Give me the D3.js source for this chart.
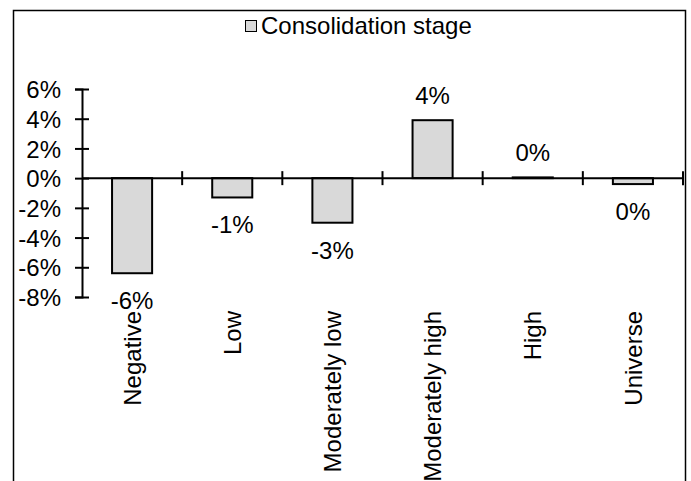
<!DOCTYPE html>
<html>
<head>
<meta charset="utf-8">
<script src="https://cdn.jsdelivr.net/npm/d3@7"></script>
<style>
  html, body { margin: 0; padding: 0; background: #fff; }
  svg { display: block; }
  text { font-family: "Liberation Sans", Arial, sans-serif; fill: #000; }
</style>
</head>
<body>
<svg id="chart" width="691" height="481"></svg>
<script>
// ---- data ----
const categories = ["Negative", "Low", "Moderately low", "Moderately high", "High", "Universe"];
const values = [-6.4, -1.3, -3.0, 3.9, 0.05, -0.4];   // percent
const yTicks = [-8, -6, -4, -2, 0, 2, 4, 6];
const seriesName = "Consolidation stage";

// ---- layout ----
const W = 691, H = 481;
const plot = { left: 82, right: 683, top: 89, bottom: 297 };
const fontSize = 24;
const barFill = "#d9d9d9";
const lw = 2;

const svg = d3.select("#chart");

// outer chart border (bottom edge falls outside the picture)
svg.append("rect")
  .attr("x", 13.5).attr("y", 10.5)
  .attr("width", 672).attr("height", 490)
  .attr("fill", "none").attr("stroke", "#000").attr("stroke-width", 1.5);

const x = d3.scaleBand()
  .domain(categories)
  .range([plot.left, plot.right])
  .paddingInner(0).paddingOuter(0);

const y = d3.scaleLinear()
  .domain([d3.min(yTicks), d3.max(yTicks)])
  .range([plot.bottom, plot.top]);

const barW = x.bandwidth() * 0.4;

// bars
svg.append("g").selectAll("rect")
  .data(categories)
  .join("rect")
  .attr("x", (d) => x(d) + (x.bandwidth() - barW) / 2)
  .attr("y", (d, i) => y(Math.max(0, values[i])))
  .attr("width", barW)
  .attr("height", (d, i) => Math.abs(y(values[i]) - y(0)))
  .attr("fill", barFill)
  .attr("stroke", "#000")
  .attr("stroke-width", lw);

// y axis
const yAxis = svg.append("g")
  .attr("transform", `translate(${plot.left},0)`)
  .call(d3.axisLeft(y).tickValues(yTicks).tickSize(7).tickPadding(14)
    .tickFormat((d) => d + "%"));
yAxis.select(".domain").attr("stroke-width", lw);
yAxis.selectAll(".tick line").attr("x1", 7).attr("stroke-width", lw);
yAxis.selectAll(".tick text")
  .attr("font-size", fontSize)
  .attr("font-family", "'Liberation Sans', Arial, sans-serif")
  .attr("dy", "0.36em");

// x axis (line at zero, ticks between categories, crossing the line)
const xAxisG = svg.append("g");
xAxisG.append("line")
  .attr("x1", plot.left).attr("x2", plot.right)
  .attr("y1", y(0)).attr("y2", y(0))
  .attr("stroke", "#000").attr("stroke-width", lw);
const boundaries = categories.map((c) => x(c)).concat([x.range()[1]]).slice(1);
xAxisG.selectAll("line.tick")
  .data(boundaries)
  .join("line")
  .attr("class", "tick")
  .attr("x1", (d) => d).attr("x2", (d) => d)
  .attr("y1", y(0) - 7).attr("y2", y(0) + 7)
  .attr("stroke", "#000").attr("stroke-width", lw);

// category labels, rotated
svg.append("g").selectAll("text")
  .data(categories)
  .join("text")
  .attr("transform", (d) => `translate(${x(d) + x.bandwidth() / 2},311) rotate(-90)`)
  .attr("text-anchor", "end")
  .attr("dy", "0.36em")
  .attr("font-size", fontSize)
  .text((d) => d);

// data labels
const fmt = (v) => { const r = Math.round(v); return (r === 0 ? 0 : r) + "%"; };
svg.append("g").selectAll("text")
  .data(categories)
  .join("text")
  .attr("x", (d) => x(d) + x.bandwidth() / 2)
  .attr("y", (d, i) => values[i] >= 0 ? y(values[i]) - 16 : y(values[i]) + 36)
  .attr("text-anchor", "middle")
  .attr("font-size", fontSize)
  .text((d, i) => fmt(values[i]));

// legend
const lg = svg.append("g");
lg.append("rect")
  .attr("x", 245.5).attr("y", 20.5).attr("width", 11).attr("height", 11)
  .attr("fill", barFill).attr("stroke", "#000").attr("stroke-width", 1);
lg.append("text")
  .attr("x", 261).attr("y", 34)
  .attr("font-size", fontSize)
  .text(seriesName);
</script>
</body>
</html>
